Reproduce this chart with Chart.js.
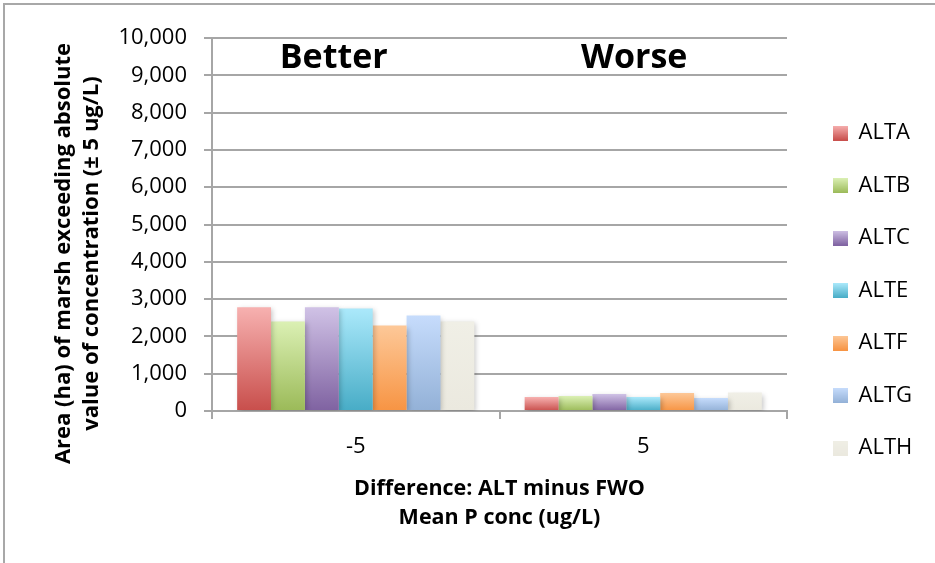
<!DOCTYPE html>
<html>
<head>
<meta charset="utf-8">
<script src="https://cdn.jsdelivr.net/npm/chart.js@4.4.0/dist/chart.umd.min.js"></script>
<style>
  html, body { margin: 0; padding: 0; background: #ffffff; overflow: hidden; }
  #wrap { position: relative; width: 935px; height: 563px; }
  #frame { position: absolute; left: 3px; top: 3px; width: 1000px; height: 1000px;
           border-left: 2px solid #a8a8a8; border-top: 2px solid #a8a8a8; }
  canvas { position: absolute; left: 0; top: 0; }
</style>
</head>
<body>
<div id="wrap">
  <div id="frame"></div>
  <canvas id="c" width="935" height="563"></canvas>
</div>
<script>
// ---- data ----
const categories = ['-5', '5'];
const seriesNames = ['ALTA', 'ALTB', 'ALTC', 'ALTE', 'ALTF', 'ALTG', 'ALTH'];
const ALTA = [2780, 375];
const ALTB = [2400, 400];
const ALTC = [2780, 455];
const ALTE = [2750, 375];
const ALTF = [2290, 485];
const ALTG = [2560, 350];
const ALTH = [2400, 495];
const seriesValues = [ALTA, ALTB, ALTC, ALTE, ALTF, ALTG, ALTH];
const yTicks = [0, 1000, 2000, 3000, 4000, 5000, 6000, 7000, 8000, 9000, 10000];
const yTitle = ['Area (ha) of marsh exceeding absolute', 'value of concentration (\u00b1 5 ug/L)'];
const xTitle = ['Difference: ALT minus FWO', 'Mean P conc (ug/L)'];
const annotations = ['Better', 'Worse'];

// ---- styles ----
const topColors = ['#f7b1b0', '#dbf0b4', '#d0c2e6', '#abe9fb', '#fdc898', '#c6dcfc', '#f0efe6'];
const botColors = ['#c84e4b', '#9bba58', '#7f62a1', '#47acc6', '#f79443', '#93b1d7', '#ebe9df'];
const FONT = '"Open Sans", "DejaVu Sans", sans-serif';

function barGradient(ctx, i) {
  const chart = ctx.chart;
  if (!chart.chartArea || ctx.type !== 'data') return botColors[i];
  const ys = chart.scales.y;
  const top = ys.getPixelForValue(ctx.raw);
  const base = ys.getPixelForValue(0);
  if (!isFinite(top) || !isFinite(base) || Math.abs(base - top) < 1) return botColors[i];
  const g = chart.ctx.createLinearGradient(0, top, 0, base);
  g.addColorStop(0, topColors[i]);
  g.addColorStop(1, botColors[i]);
  return g;
}

function swatch(i) {
  const c = document.createElement('canvas');
  c.width = 15; c.height = 15;
  const x = c.getContext('2d');
  const g = x.createLinearGradient(0, 0, 0, 15);
  g.addColorStop(0, topColors[i]);
  g.addColorStop(1, botColors[i]);
  x.fillStyle = g;
  x.fillRect(0, 0, 15, 15);
  return c;
}
const swatches = seriesNames.map((_, i) => swatch(i));

const LEG_W = 148;
const LEG_DX = 15;
const LEG_DY = -10;

const legendFix = {
  id: 'legendFix',
  beforeLayout(chart) {
    const lg = chart.legend;
    if (lg && !lg.__patched) {
      const orig = lg.fit;
      lg.fit = function () { orig.call(this); this.width = LEG_W; };
      lg.__patched = true;
    }
  },
  afterLayout(chart) {
    const lg = chart.legend;
    if (lg) { lg.left += LEG_DX; lg.right += LEG_DX; lg.top += LEG_DY; lg.bottom += LEG_DY; }
  }
};

const shadowPlugin = {
  id: 'shadow',
  beforeDatasetsDraw(chart) {
    const c = chart.ctx;
    c.save();
    c.shadowColor = 'rgba(0,0,0,0.22)';
    c.shadowBlur = 5;
    c.shadowOffsetX = 2;
    c.shadowOffsetY = 2;
  },
  afterDatasetsDraw(chart) { chart.ctx.restore(); }
};

// y-axis title drawn rotated, centred slightly below the plot's mid-height as in the reference
const yTitlePlugin = {
  id: 'yTitle',
  afterDraw(chart) {
    const c = chart.ctx;
    const area = chart.chartArea;
    const cy = (area.top + area.bottom) / 2 + 29;
    c.save();
    c.font = 'bold 22px ' + FONT;
    c.fillStyle = '#000';
    c.textAlign = 'center';
    c.textBaseline = 'middle';
    yTitle.forEach((t, i) => {
      c.save();
      c.translate(64 + i * 28, cy);
      c.rotate(-Math.PI / 2);
      c.fillText(t, 0, 0);
      c.restore();
    });
    c.restore();
  }
};

const annotationPlugin = {
  id: 'betterWorse',
  afterDraw(chart) {
    const c = chart.ctx;
    const xs = chart.scales.x;
    const offs = [-22, -9];
    c.save();
    c.font = 'bold 34px ' + FONT;
    c.fillStyle = '#000';
    c.textAlign = 'center';
    c.textBaseline = 'middle';
    annotations.forEach((t, i) => {
      c.fillText(t, xs.getPixelForValue(i) + offs[i], 58);
    });
    c.restore();
  }
};

new Chart(document.getElementById('c'), {
  type: 'bar',
  data: {
    labels: categories,
    datasets: seriesNames.map((name, i) => ({
      label: name,
      data: seriesValues[i],
      backgroundColor: ctx => barGradient(ctx, i),
      borderWidth: 0,
      barPercentage: 1.0,
      categoryPercentage: 0.825
    }))
  },
  options: {
    responsive: false,
    animation: false,
    devicePixelRatio: 1,
    layout: { padding: { left: 0, top: 38, right: 0, bottom: 0 } },
    plugins: {
      tooltip: { enabled: false },
      legend: {
        position: 'right',
        labels: {
          font: { family: FONT, size: 22 },
          color: '#000',
          boxWidth: 15,
          boxHeight: 15,
          padding: 30.5,
          usePointStyle: true,
          generateLabels: chart => seriesNames.map((n, i) => ({
            text: n, pointStyle: swatches[i], fillStyle: botColors[i],
            strokeStyle: 'rgba(0,0,0,0)', lineWidth: 0, hidden: false, datasetIndex: i,
            fontColor: '#000'
          }))
        }
      }
    },
    scales: {
      x: {
        grid: { display: true, drawOnChartArea: false, drawTicks: true, tickLength: 8, color: '#a6a6a6', lineWidth: 2 },
        border: { display: true, color: '#a6a6a6', width: 2 },
        ticks: { font: { family: FONT, size: 22, lineHeight: 1.2 }, color: '#000', padding: 15 },
        title: {
          display: true, text: xTitle, color: '#000',
          font: { family: FONT, size: 21.5, weight: 'bold', lineHeight: '29px' },
          padding: { top: 0, bottom: 31 }
        },
        afterFit: s => { s.height = 152; }
      },
      y: {
        min: 0, max: 10000,
        afterBuildTicks: s => { s.ticks = yTicks.map(v => ({ value: v })); },
        grid: { color: '#a6a6a6', lineWidth: 2, tickLength: 8, drawTicks: true },
        border: { display: true, color: '#a6a6a6', width: 2 },
        ticks: {
          font: { family: FONT, size: 22 }, color: '#000', padding: 17,
          callback: v => Number(v).toLocaleString('en-US')
        },
        title: { display: false, text: yTitle },
        afterFit: s => { s.width = 212; }
      }
    }
  },
  plugins: [legendFix, shadowPlugin, yTitlePlugin, annotationPlugin]
});
</script>
</body>
</html>
